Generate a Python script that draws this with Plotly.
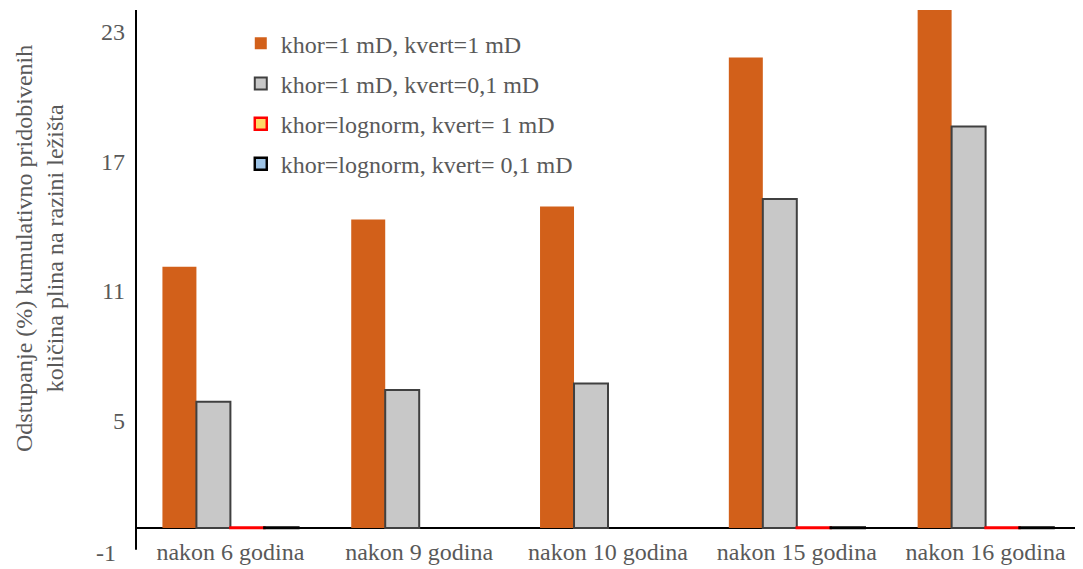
import plotly.graph_objects as go

categories = ["nakon 6 godina", "nakon 9 godina", "nakon 10 godina", "nakon 15 godina", "nakon 16 godina"]
s1_name = "khor=1 mD, kvert=1 mD"
s2_name = "khor=1 mD, kvert=0,1 mD"
s3_name = "khor=lognorm, kvert= 1 mD"
s4_name = "khor=lognorm, kvert= 0,1 mD"
s1 = [12.1, 14.3, 14.9, 21.8, 24.5]
s2 = [5.85, 6.4, 6.7, 15.25, 18.6]
s3 = [0.03, None, None, 0.03, 0.03]
s4 = [0.03, None, None, 0.03, 0.03]
y_ticks = [-1, 5, 11, 17, 23]
y_min, y_max = -1, 24
y_title = "Odstupanje (%) kumulativno pridobivenih<br>količina plina na razini ležišta"

font_family = "Liberation Serif, Times New Roman, serif"
gray_text = "#595959"
fs = 24

fig = go.Figure()
fig.add_bar(x=categories, y=s1, name=s1_name, legendgroup="a",
            marker=dict(color="#D2601A", line=dict(color="#D2601A", width=0)))
fig.add_bar(x=categories, y=s2, name=s2_name, legendgroup="b",
            marker=dict(color="#C8C8C8", line=dict(color="#404040", width=2)))
fig.add_bar(x=categories, y=s3, name=s3_name, legendgroup="c",
            marker=dict(color="#FFD966", line=dict(color="#FF0000", width=2.5)))
fig.add_bar(x=categories, y=s4, name=s4_name, legendgroup="d",
            marker=dict(color="#9DC3E6", line=dict(color="#000000", width=2.5)))

# y-axis title
fig.add_annotation(text=y_title, xref="paper", yref="paper", x=-0.103, y=0.573,
                   xanchor="center", yanchor="middle", textangle=-90, showarrow=False,
                   font=dict(size=fs, color=gray_text, family=font_family))
# lowest tick label (hidden by plotly near the inside x labels)
fig.add_annotation(text=str(y_ticks[0]), xref="paper", yref="y", x=0, y=y_ticks[0],
                   xanchor="right", yanchor="middle", xshift=-18, yshift=-3, showarrow=False,
                   font=dict(size=fs, color=gray_text, family=font_family))
# y axis line from the bottom of the scale to the top
fig.add_shape(type="line", xref="paper", yref="y", x0=0, x1=0, y0=y_min, y1=y_max,
              line=dict(color="black", width=2))

fig.update_layout(
    width=1075, height=561,
    margin=dict(l=128, r=3, t=2, b=1),
    plot_bgcolor="white", paper_bgcolor="white",
    barmode="group", bargap=0.28, bargroupgap=0,
    font=dict(family=font_family, size=fs, color=gray_text),
    legend=dict(x=0.111, y=0.98, xanchor="left", yanchor="top",
                bgcolor="rgba(0,0,0,0)", tracegroupgap=6,
                font=dict(size=fs, color=gray_text), itemwidth=30),
    xaxis=dict(showline=False, ticks="", showgrid=False, automargin=False,
               ticklabelposition="inside",
               tickfont=dict(size=fs, color=gray_text)),
    yaxis=dict(range=[-1.85, y_max], tickvals=y_ticks, showgrid=False, automargin=False,
               showline=False,
               zeroline=True, zerolinecolor="black", zerolinewidth=2,
               ticks="", ticklabelstandoff=10,
               tickfont=dict(size=fs, color=gray_text)),
)

fig.write_html("out.html")
